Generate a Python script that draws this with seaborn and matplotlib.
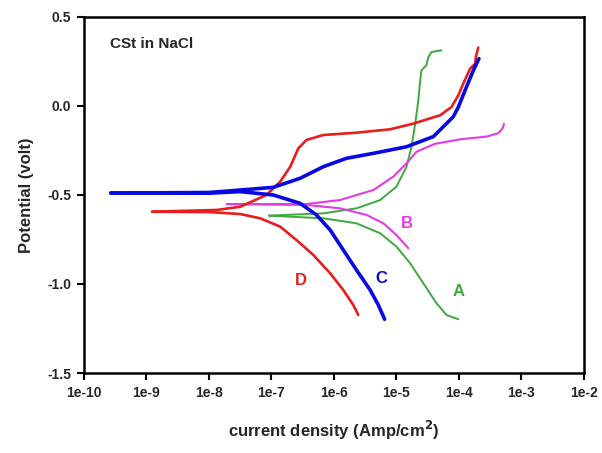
import matplotlib
matplotlib.use("Agg")
import matplotlib.pyplot as plt
import seaborn as sns

sns.set_theme(style="white")
plt.rcParams['font.family'] = ['Liberation Sans', 'DejaVu Sans']

# current density (Amp/cm2) and potential (volt)
# curve A (green)
a_anod_i = [9.1e-8, 6.76e-7, 2.29e-6, 5.5e-6, 1.0e-5, 1.45e-5, 1.74e-5, 2.0e-5, 2.24e-5, 2.4e-5, 2.51e-5, 3.02e-5, 3.24e-5, 3.63e-5, 5.25e-5]
a_anod_e = [-0.616, -0.603, -0.575, -0.528, -0.453, -0.341, -0.229, -0.097, 0.033, 0.144, 0.20, 0.229, 0.275, 0.303, 0.313]
a_cath_i = [9.1e-8, 6.76e-7, 2.29e-6, 5.5e-6, 1.0e-5, 1.66e-5, 2.69e-5, 4.37e-5, 6.31e-5, 9.77e-5]
a_cath_e = [-0.616, -0.631, -0.659, -0.715, -0.79, -0.884, -0.996, -1.108, -1.174, -1.198]

# curve B (magenta)
b_anod_i = [1.95e-8, 3.63e-7, 1.26e-6, 4.27e-6, 8.9e-6, 1.45e-5, 2.09e-5, 4.1e-5, 1.05e-4, 2.75e-4, 4.27e-4, 5.01e-4, 5.25e-4]
b_anod_e = [-0.551, -0.551, -0.528, -0.472, -0.397, -0.322, -0.257, -0.213, -0.187, -0.172, -0.153, -0.125, -0.101]
b_cath_i = [1.95e-8, 3.63e-7, 1.26e-6, 3.31e-6, 6.17e-6, 1.0e-5, 1.55e-5]
b_cath_e = [-0.551, -0.556, -0.575, -0.612, -0.659, -0.725, -0.799]

# curve C (blue)
c_anod_i = [2.69e-10, 1.0e-8, 3.16e-8, 1.07e-7, 2.88e-7, 6.76e-7, 1.58e-6, 4.27e-6, 1.45e-5, 3.89e-5, 6.31e-5, 8.13e-5, 9.77e-5, 1.32e-4, 1.70e-4, 2.09e-4]
c_anod_e = [-0.489, -0.486, -0.472, -0.457, -0.406, -0.341, -0.294, -0.266, -0.229, -0.172, -0.099, -0.06, -0.006, 0.107, 0.20, 0.266]
c_cath_i = [2.69e-10, 1.0e-8, 3.16e-8, 1.07e-7, 2.88e-7, 5.25e-7, 8.71e-7, 1.41e-6, 2.29e-6, 3.8e-6, 5.13e-6, 6.46e-6]
c_cath_e = [-0.489, -0.49, -0.481, -0.50, -0.547, -0.612, -0.697, -0.809, -0.921, -1.034, -1.118, -1.198]

# curve D (red)
d_anod_i = [1.23e-9, 1.35e-8, 3.16e-8, 8.3e-8, 1.38e-7, 2.0e-7, 2.69e-7, 3.63e-7, 6.76e-7, 2.29e-6, 7.94e-6, 1.86e-5, 5.01e-5, 7.59e-5, 9.77e-5, 1.17e-4, 1.51e-4, 1.82e-4, 1.86e-4, 2.04e-4]
d_anod_e = [-0.594, -0.584, -0.566, -0.50, -0.425, -0.341, -0.238, -0.191, -0.163, -0.150, -0.131, -0.099, -0.052, -0.006, 0.06, 0.125, 0.21, 0.238, 0.275, 0.328]
d_cath_i = [1.23e-9, 1.0e-8, 3.16e-8, 6.6e-8, 1.38e-7, 2.51e-7, 4.68e-7, 8.71e-7, 1.41e-6, 2.04e-6, 2.45e-6]
d_cath_e = [-0.594, -0.596, -0.607, -0.631, -0.678, -0.753, -0.837, -0.94, -1.034, -1.118, -1.174]

# curve labels and their positions
curve_names = ['A', 'B', 'C', 'D']
label_i = [9.77e-5, 1.45e-5, 5.75e-6, 3.0e-7]
label_e = [-1.043, -0.659, -0.968, -0.978]

x_ticks = [1e-10, 1e-9, 1e-8, 1e-7, 1e-6, 1e-5, 1e-4, 1e-3, 1e-2]
x_tick_labels = ['1e-10', '1e-9', '1e-8', '1e-7', '1e-6', '1e-5', '1e-4', '1e-3', '1e-2']
y_ticks = [-1.5, -1.0, -0.5, 0.0, 0.5]

colors = {'A': '#3fa83f', 'B': '#e03ce6', 'C': '#0808e0', 'D': '#e61e1e'}
widths = {'A': 1.4, 'B': 1.5, 'C': 2.6, 'D': 1.9}

curves = {
    'A': [(a_anod_i, a_anod_e), (a_cath_i, a_cath_e)],
    'B': [(b_anod_i, b_anod_e), (b_cath_i, b_cath_e)],
    'C': [(c_anod_i, c_anod_e), (c_cath_i, c_cath_e)],
    'D': [(d_anod_i, d_anod_e), (d_cath_i, d_cath_e)],
}

fig = plt.figure(figsize=(6.02, 4.53), dpi=100)
ax = fig.add_axes([0.1395, 0.1766, 0.8305, 0.7859])

for name in ['A', 'B', 'D', 'C']:
    for xi, ye in curves[name]:
        sns.lineplot(x=xi, y=ye, sort=False, estimator=None, color=colors[name],
                     linewidth=widths[name], ax=ax,
                     solid_joinstyle='round', solid_capstyle='round')

for name, xi, ye in zip(curve_names, label_i, label_e):
    ax.text(xi, ye, name, color=colors[name], fontsize=12, fontweight='bold',
            ha='center', va='center')

ax.text(0.052, 0.924, 'CSt in NaCl', transform=ax.transAxes, fontsize=11,
        fontweight='bold', ha='left', va='center')

ax.set_xscale('log')
ax.set_xlim(1e-10, 1e-2)
ax.set_ylim(-1.5, 0.5)
ax.set_xticks(x_ticks)
ax.set_xticklabels(x_tick_labels)
ax.minorticks_off()
ax.set_yticks(y_ticks)
ax.set_yticklabels([f'{v:.1f}' for v in y_ticks])

ax.tick_params(direction='out', length=5, width=1.5, color='black',
               labelsize=10, bottom=True, left=True, pad=4)
for lbl in ax.get_xticklabels() + ax.get_yticklabels():
    lbl.set_fontweight('bold')
for sp in ax.spines.values():
    sp.set_color('black')
    sp.set_linewidth(1.8)

ax.set_xlabel('current density (Amp/cm$^\\mathbf{2}$)', fontsize=12, fontweight='bold', labelpad=14)
ax.set_ylabel('Potential (volt)', fontsize=12, fontweight='bold', labelpad=10)

plt.savefig('out.png', dpi=100)
